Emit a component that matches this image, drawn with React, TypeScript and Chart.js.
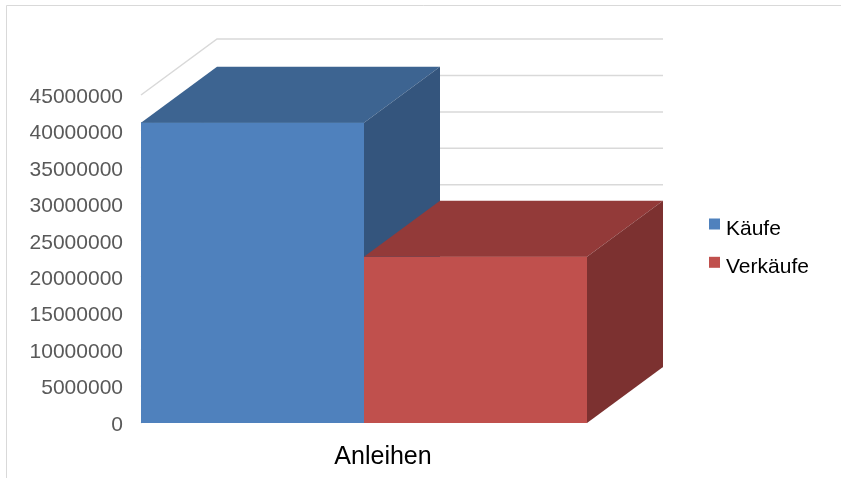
import React, { useEffect, useRef } from 'react';
import { Chart, registerables } from 'chart.js';

Chart.register(...registerables);

// ---- data ----
const categories: string[] = ['Anleihen'];
const seriesNames: string[] = ['Käufe', 'Verkäufe'];
const kaeufe: number[] = [41200000];
const verkaeufe: number[] = [22800000];
const yMin = 0;
const yMax = 45000000;
const yStep = 5000000;

// ---- style ----
const FONT = '"Liberation Sans", Arial, sans-serif';
const FRONT = ['#4F81BD', '#C0504D'];
const TOP = ['#3D6491', '#933A39'];
const SIDE = ['#34557D', '#7C3130'];
const GRID = '#D9D9D9';
const DEPTH_X = 76;
const DEPTH_Y = -56;

const depthPlugin = {
  id: 'depth3d',
  beforeDraw(chart: any) {
    const { ctx, width, height } = chart;
    ctx.save();
    ctx.fillStyle = '#FFFFFF';
    ctx.fillRect(0, 0, width, height);
    ctx.strokeStyle = GRID;
    ctx.lineWidth = 1;
    ctx.beginPath();
    ctx.moveTo(6.5, height);
    ctx.lineTo(6.5, 5.5);
    ctx.lineTo(width, 5.5);
    ctx.stroke();
    ctx.restore();
  },
  beforeDatasetsDraw(chart: any) {
    const { ctx, chartArea } = chart;
    const ys = chart.scales.y;
    ctx.save();
    ctx.strokeStyle = GRID;
    ctx.lineWidth = 1.5;
    ys.ticks.forEach((t: any) => {
      const py = ys.getPixelForValue(t.value);
      ctx.beginPath();
      ctx.moveTo(chartArea.left, py);
      ctx.lineTo(chartArea.left + DEPTH_X, py + DEPTH_Y);
      ctx.lineTo(chartArea.right + DEPTH_X, py + DEPTH_Y);
      ctx.stroke();
    });
    ctx.restore();
  },
  afterDatasetsDraw(chart: any) {
    const { ctx } = chart;
    ctx.save();
    chart.data.datasets.forEach((_ds: any, i: number) => {
      const meta = chart.getDatasetMeta(i);
      meta.data.forEach((bar: any) => {
        const { x, y, base, width } = bar.getProps(['x', 'y', 'base', 'width'], true);
        const l = x - width / 2;
        const r = x + width / 2;
        // front
        ctx.fillStyle = FRONT[i];
        ctx.fillRect(l, y, r - l, base - y);
        // top
        ctx.fillStyle = TOP[i];
        ctx.beginPath();
        ctx.moveTo(l, y);
        ctx.lineTo(r, y);
        ctx.lineTo(r + DEPTH_X, y + DEPTH_Y);
        ctx.lineTo(l + DEPTH_X, y + DEPTH_Y);
        ctx.closePath();
        ctx.fill();
        // side
        ctx.fillStyle = SIDE[i];
        ctx.beginPath();
        ctx.moveTo(r, y);
        ctx.lineTo(r + DEPTH_X, y + DEPTH_Y);
        ctx.lineTo(r + DEPTH_X, base + DEPTH_Y);
        ctx.lineTo(r, base);
        ctx.closePath();
        ctx.fill();
      });
    });
    ctx.restore();
  },
  afterDraw(chart: any) {
    const { ctx } = chart;
    ctx.save();
    ctx.font = `21px ${FONT}`;
    ctx.textBaseline = 'alphabetic';
    ctx.textAlign = 'left';
    chart.data.datasets.forEach((ds: any, i: number) => {
      const top = 218.5 + i * 38.3;
      ctx.fillStyle = FRONT[i];
      ctx.fillRect(709, top, 11, 11);
      ctx.fillStyle = '#000000';
      ctx.fillText(ds.label, 726, top + 16.5);
    });
    ctx.restore();
  },
};

export default function App() {
  const ref = useRef<HTMLCanvasElement>(null);
  useEffect(() => {
    if (!ref.current) return;
    const chart = new Chart(ref.current, {
      type: 'bar',
      data: {
        labels: categories,
        datasets: [
          { label: seriesNames[0], data: kaeufe, backgroundColor: FRONT[0] },
          { label: seriesNames[1], data: verkaeufe, backgroundColor: FRONT[1] },
        ],
      },
      options: {
        animation: false,
        responsive: false,
        maintainAspectRatio: false,
        devicePixelRatio: 1,
        layout: { padding: { left: 0, right: 254, top: 95, bottom: 0 } },
        datasets: { bar: { categoryPercentage: 1, barPercentage: 1 } } as any,
        plugins: {
          legend: { display: false },
          tooltip: { enabled: false },
        },
        scales: {
          x: {
            grid: { display: false, drawTicks: false },
            border: { display: false },
            ticks: {
              color: '#000000',
              font: { family: FONT, size: 25 },
              padding: 19,
              labelOffset: 19,
            },
            afterFit: (s: any) => {
              s.height = 55;
            },
          },
          y: {
            min: yMin,
            max: yMax,
            grid: { display: false, drawTicks: false },
            border: { display: false },
            ticks: {
              stepSize: yStep,
              color: '#595959',
              font: { family: FONT, size: 21 },
              padding: 18,
              labelOffset: 2,
              callback: (v: any) => String(v),
            },
            afterFit: (s: any) => {
              s.width = 141;
            },
          },
        } as any,
      },
      plugins: [depthPlugin],
    });
    return () => chart.destroy();
  }, []);
  return (
    <div style={{ position: 'fixed', left: 0, top: 0, width: 841, height: 478 }}>
      <canvas ref={ref} width={841} height={478} style={{ width: 841, height: 478, display: 'block' }} />
    </div>
  );
}
